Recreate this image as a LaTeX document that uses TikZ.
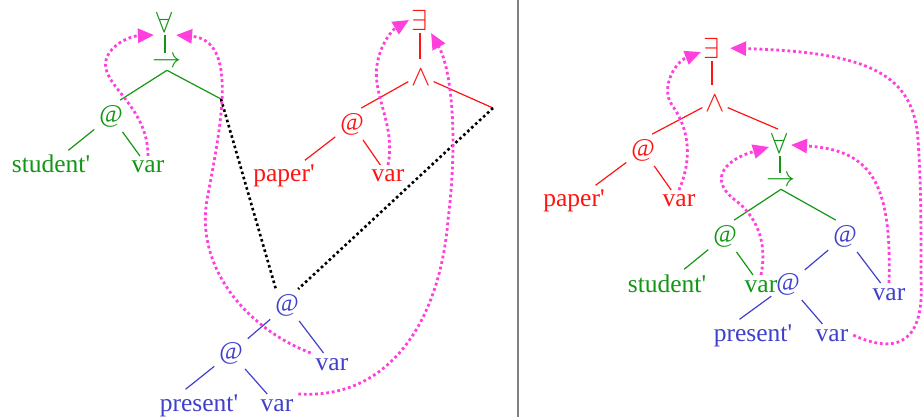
\RequirePackage{fix-cm}
\documentclass[tikz,border=0pt]{standalone}
\usepackage{fontspec}
\setmainfont{Liberation Serif}
\usetikzlibrary{arrows.meta}
\definecolor{treegreen}{RGB}{20,150,20}
\definecolor{treered}{RGB}{255,20,20}
\definecolor{treeblue}{RGB}{64,64,204}
\definecolor{bindpink}{RGB}{255,64,220}
\begin{document}
\begin{tikzpicture}[x=1pt, y=-1pt,
    sym/.style={inner sep=3pt, outer sep=2pt, font=\fontsize{25.5}{30}\selectfont},
    op/.style={inner sep=1.5pt, outer sep=1.5pt, font=\fontsize{29}{34}\selectfont},
    leaf/.style={sym, anchor=base},
    branch/.style={line width=1.2pt},
    link/.style={black, line width=2.6pt, dash pattern=on 2.6pt off 2.8pt},
    bind/.style={bindpink, line width=2.8pt, dash pattern=on 2.8pt off 2.8pt,
        -{Triangle[length=16pt, width=14pt]}}]
    \useasboundingbox (0,0) rectangle (924,417);

    % Divider between the two readings
    \draw[gray, line width=1.6pt] (518,0) -- (518,417);

    % Left: universal part (green)
    \node[op, treegreen] (fa1) at (165,22) {$\forall$};
    \node[op, treegreen] (im1) at (167,62) {$\rightarrow$};
    \node[sym, treegreen] (ap1) at (111,116) {@};
    \node[leaf, treegreen] (st1) at (51,173) {student\textquotesingle};
    \node[leaf, treegreen] (va1) at (148,173) {var};
    \coordinate (h1) at (221,99);
    \draw[branch, treegreen, shorten >=9pt] (fa1.south) -- (fa1.south |- im1.center);
    \draw[branch, treegreen] (im1.south) -- (ap1.60);
    \draw[branch, treegreen] (im1.south) -- (h1);
    \draw[branch, treegreen] (ap1) -- (st1);
    \draw[branch, treegreen] (ap1) -- (va1);

    % Left: existential part (red)
    \node[op, treered] (ex1) at (420,20) {$\exists$};
    \node[op, treered] (an1) at (421,77) {$\wedge$};
    \node[sym, treered] (ap2) at (352,124) {@};
    \node[leaf, treered] (pa1) at (284,182) {paper\textquotesingle};
    \node[leaf, treered] (va2) at (388,182) {var};
    \coordinate (h2) at (493,108);
    \draw[branch, treered, shorten >=18pt] (ex1.south) -- (ex1.south |- an1.center);
    \draw[branch, treered] (an1.200) -- (ap2.60);
    \draw[branch, treered] (an1.-20) -- (h2);
    \draw[branch, treered] (ap2) -- (pa1);
    \draw[branch, treered] (ap2) -- (va2);

    % Left: verb part (blue)
    \node[sym, treeblue] (ap3) at (287,305) {@};
    \node[sym, treeblue] (ap4) at (231,353) {@};
    \node[leaf, treeblue] (va3) at (332,370) {var};
    \node[leaf, treeblue] (pr1) at (199,411) {present\textquotesingle};
    \node[leaf, treeblue] (va4) at (277,411) {var};
    \draw[branch, treeblue] (ap3) -- (ap4);
    \draw[branch, treeblue] (ap3) -- (va3);
    \draw[branch, treeblue] (ap4) -- (pr1.130);
    \draw[branch, treeblue] (ap4) -- (va4);

    % Holes plugged by the verb
    \draw[link] (h1) -- (ap3.125);
    \draw[link] (h2) -- (ap3.55);

    % Left: bindings
    \draw[bind] (va1.north) .. controls (148,105) and (100,85) .. (106,60)
        .. controls (110,45) and (130,36) .. (fa1.south west);
    \draw[bind] (va3.north west) .. controls (250,330) and (195,270) .. (207,200)
        .. controls (222,120) and (238,40) .. (fa1.south east);
    \draw[bind] (va4.north east) .. controls (390,400) and (440,320) .. (448,220)
        .. controls (458,140) and (452,70) .. (ex1.south east);
    \draw[bind] (va2.north) .. controls (396,125) and (372,95) .. (377,65)
        .. controls (380,45) and (392,30) .. (ex1.west);

    % Right: existential on top (red)
    \node[op, treered] (ex2) at (712,48) {$\exists$};
    \node[op, treered] (an2) at (715,103) {$\wedge$};
    \node[sym, treered] (ap5) at (643,150) {@};
    \node[leaf, treered] (pa2) at (574,207) {paper\textquotesingle};
    \node[leaf, treered] (va5) at (679,207) {var};

    % Right: universal below (green)
    \node[op, treegreen] (fa2) at (780,143) {$\forall$};
    \node[op, treegreen] (im2) at (781,181) {$\rightarrow$};
    \node[sym, treegreen] (ap6) at (725,236) {@};
    \node[leaf, treegreen] (st2) at (667,292) {student\textquotesingle};
    \node[leaf, treegreen] (va6) at (761,292) {var};

    % Right: verb part (blue)
    \node[sym, treeblue] (ap8) at (845,236) {@};
    \node[sym, treeblue] (ap7) at (788,284) {@};
    \node[leaf, treeblue] (va8) at (889,300) {var};
    \node[leaf, treeblue] (pr2) at (753,341) {present\textquotesingle};
    \node[leaf, treeblue] (va7) at (832,341) {var};

    % Right: branches
    \draw[branch, treered, shorten >=18pt] (ex2.south) -- (ex2.south |- an2.center);
    \draw[branch, treered] (an2.200) -- (ap5.60);
    \draw[branch, treered, shorten >=2pt] (an2.-20) -- (fa2.north);
    \draw[branch, treered] (ap5) -- (pa2);
    \draw[branch, treered] (ap5) -- (va5);
    \draw[branch, treegreen, shorten >=8pt] (fa2.south) -- (fa2.south |- im2.center);
    \draw[branch, treegreen] (im2.south) -- (ap6.60);
    \draw[branch, treegreen] (im2.south) -- (ap8.120);
    \draw[branch, treegreen] (ap6) -- (st2);
    \draw[branch, treegreen] (ap6) -- (va6);
    \draw[branch, treeblue] (ap8) -- (ap7);
    \draw[branch, treeblue] (ap8) -- (va8);
    \draw[branch, treeblue] (ap7) -- (pr2.130);
    \draw[branch, treeblue] (ap7) -- (va7);

    % Right: bindings
    \draw[bind] (va5.north) .. controls (692,160) and (690,130) .. (672,105)
        .. controls (660,88) and (675,62) .. (ex2.200);
    \draw[bind] (va6.north) .. controls (768,240) and (755,215) .. (735,200)
        .. controls (712,183) and (718,162) .. (fa2.200);
    \draw[bind] (va8.north) .. controls (892,180) and (870,150) .. (fa2.-10);
    \draw[bind, shorten >=7pt] (va7.east) .. controls (890,352) and (925,350) .. (921,280)
        .. controls (921,220) and (921,180) .. (918,140)
        .. controls (914,75) and (870,52) .. (ex2.east);
\end{tikzpicture}
\end{document}
